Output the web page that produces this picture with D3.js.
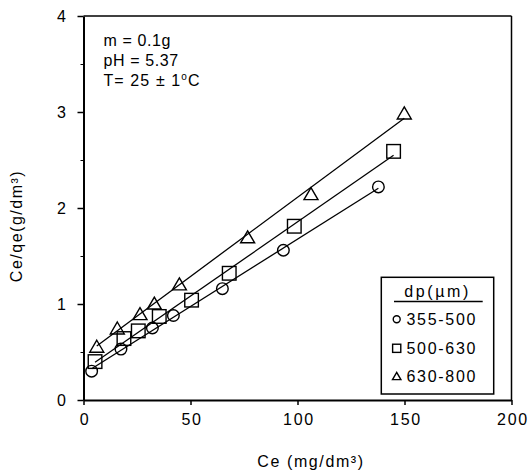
<!DOCTYPE html>
<html>
<head>
<meta charset="utf-8">
<script src="https://cdn.jsdelivr.net/npm/d3@7"></script>
<style>
  html, body { margin: 0; padding: 0; background: #fff; }
  svg text { font-family: "Liberation Sans", Arial, sans-serif; fill: #000; }
</style>
</head>
<body>
<svg id="chart" width="529" height="473"></svg>
<script>
// ---- data ----
const seriesNames = ["355-500", "500-630", "630-800"];
const circleX = [3.8, 17.5, 32.2, 42.0, 64.9, 93.4, 137.8];
const circleY = [0.30, 0.53, 0.75, 0.88, 1.16, 1.56, 2.22];
const squareX = [5.4, 18.9, 25.6, 35.4, 50.5, 68.1, 98.5, 144.9];
const squareY = [0.40, 0.64, 0.72, 0.87, 1.04, 1.32, 1.81, 2.59];
const triX = [6.2, 15.8, 26.4, 33.1, 44.8, 76.7, 106.3, 149.9];
const triY = [0.56, 0.75, 0.90, 1.01, 1.21, 1.70, 2.15, 2.99];
const xTicks = [0, 50, 100, 150, 200];
const yTicks = [0, 1, 2, 3, 4];
const yMinorTicks = [0.5, 1.5, 2.5, 3.5];
const annotation = ["m = 0.1g", "pH = 5.37"];
const xLabel = "Ce (mg/dm³)";
const yLabel = "Ce/qe(g/dm³)";
const legendTitle = "dp(µm)";

const svg = d3.select("#chart");
const x = d3.scaleLinear().domain([0, 200]).range([83.5, 511.5]);
const y = d3.scaleLinear().domain([0, 4]).range([400, 16]);

const FS = 16, LS = 1.7;

// frame (top/right)
svg.append("line").attr("x1", x(0)).attr("x2", x(200)).attr("y1", y(4)).attr("y2", y(4))
  .attr("stroke", "#000").attr("stroke-width", 1.5);
svg.append("line").attr("x1", x(200)).attr("x2", x(200)).attr("y1", y(4)).attr("y2", y(0))
  .attr("stroke", "#000").attr("stroke-width", 1.5);

// axes
const xAxis = d3.axisBottom(x).tickValues(xTicks).tickFormat(d3.format("d"))
  .tickSize(5).tickSizeOuter(0).tickPadding(9);
const gx = svg.append("g").attr("transform", `translate(0,${y(0)})`).call(xAxis);
const yAxis = d3.axisLeft(y).tickValues(yTicks).tickFormat(d3.format("d"))
  .tickSize(6).tickSizeOuter(0).tickPadding(12);
const gy = svg.append("g").attr("transform", `translate(${x(0)},0)`).call(yAxis);
const yMinor = d3.axisLeft(y).tickValues(yMinorTicks).tickSize(3).tickFormat("").tickSizeOuter(0);
svg.append("g").attr("transform", `translate(${x(0)},0)`).call(yMinor)
  .call(g => g.select(".domain").remove());
[gx, gy].forEach(g => {
  g.select(".domain").attr("stroke-width", 2);
  g.selectAll(".tick line").attr("stroke-width", 1.5);
  g.selectAll(".tick text").attr("font-size", FS).attr("letter-spacing", LS)
    .attr("font-family", '"Liberation Sans", Arial, sans-serif');
});
svg.selectAll("g").selectAll(".tick line").attr("stroke", "#000");
gy.selectAll(".tick text").attr("dx", 2);
gx.selectAll(".tick text").attr("dx", 1);

// markers
function marker(sel, type, s) {
  if (type === 0) sel.append("circle").attr("r", 5.8 * s);
  else if (type === 1) sel.append("rect").attr("x", -6.8 * s).attr("y", -6.8 * s)
    .attr("width", 13.6 * s).attr("height", 13.6 * s);
  else sel.append("path").attr("d", `M0,${-6*s}L${7*s},${6*s}L${-7*s},${6*s}Z`);
  sel.selectAll("*").attr("fill", "none").attr("stroke", "#000").attr("stroke-width", 1.4);
}

const series = [[circleX, circleY], [squareX, squareY], [triX, triY]];
const line = d3.line().x(d => x(d[0])).y(d => y(d[1]));
series.forEach(([xs, ys], i) => {
  // least-squares regression line through the series
  const n = xs.length, mx = d3.mean(xs), my = d3.mean(ys);
  let sxy = 0, sxx = 0;
  for (let k = 0; k < n; k++) { sxy += (xs[k]-mx)*(ys[k]-my); sxx += (xs[k]-mx)**2; }
  const b = sxy / sxx, a = my - b * mx;
  const x0 = d3.min(xs), x1 = d3.max(xs);
  svg.append("path").attr("d", line([[x0, a + b*x0], [x1, a + b*x1]]))
    .attr("stroke", "#000").attr("stroke-width", 1.3).attr("fill", "none");
  xs.forEach((xv, k) => {
    const g = svg.append("g").attr("transform", `translate(${x(xv)},${y(ys[k])})`);
    marker(g, i, 1);
  });
});

// annotation
const ann = svg.append("g").attr("font-size", FS).attr("letter-spacing", 0.6);
ann.append("text").attr("x", 103.5).attr("y", 46).text(annotation[0]);
ann.append("text").attr("x", 103.5).attr("y", 65.5).text(annotation[1]);
const t3 = ann.append("text").attr("x", 103.5).attr("y", 86).attr("letter-spacing", 1.1);
t3.append("tspan").text("T= 25 ± 1");
t3.append("tspan").attr("font-size", 10).attr("dy", -6).text("o");
t3.append("tspan").attr("dy", 6).text("C");

// axis labels
svg.append("text").attr("x", 311).attr("y", 466.5).attr("text-anchor", "middle")
  .attr("font-size", FS).attr("letter-spacing", 1.6).text(xLabel);
svg.append("text").attr("transform", "translate(21.5,226) rotate(-90)")
  .attr("text-anchor", "middle").attr("font-size", FS).attr("letter-spacing", 1.5).text(yLabel);

// legend
const lg = svg.append("g");
lg.append("rect").attr("x", 381.3).attr("y", 277.3).attr("width", 112.4).attr("height", 116.7)
  .attr("fill", "#fff").attr("stroke", "#000").attr("stroke-width", 1.5);
lg.append("text").attr("x", 404.3).attr("y", 297).attr("font-size", FS)
  .attr("letter-spacing", 2.6).text(legendTitle);
lg.append("line").attr("x1", 394).attr("x2", 482.7).attr("y1", 301.5).attr("y2", 301.5)
  .attr("stroke", "#000").attr("stroke-width", 1.5);
const rowsY = [319.3, 348.3, 376];
seriesNames.forEach((name, i) => {
  const g = lg.append("g").attr("transform", `translate(396.7,${rowsY[i]})`);
  marker(g, i, 0.6);
  lg.append("text").attr("x", 406.5).attr("y", rowsY[i] + 5.6).attr("font-size", FS)
    .attr("letter-spacing", LS).text(name);
});
</script>
</body>
</html>
